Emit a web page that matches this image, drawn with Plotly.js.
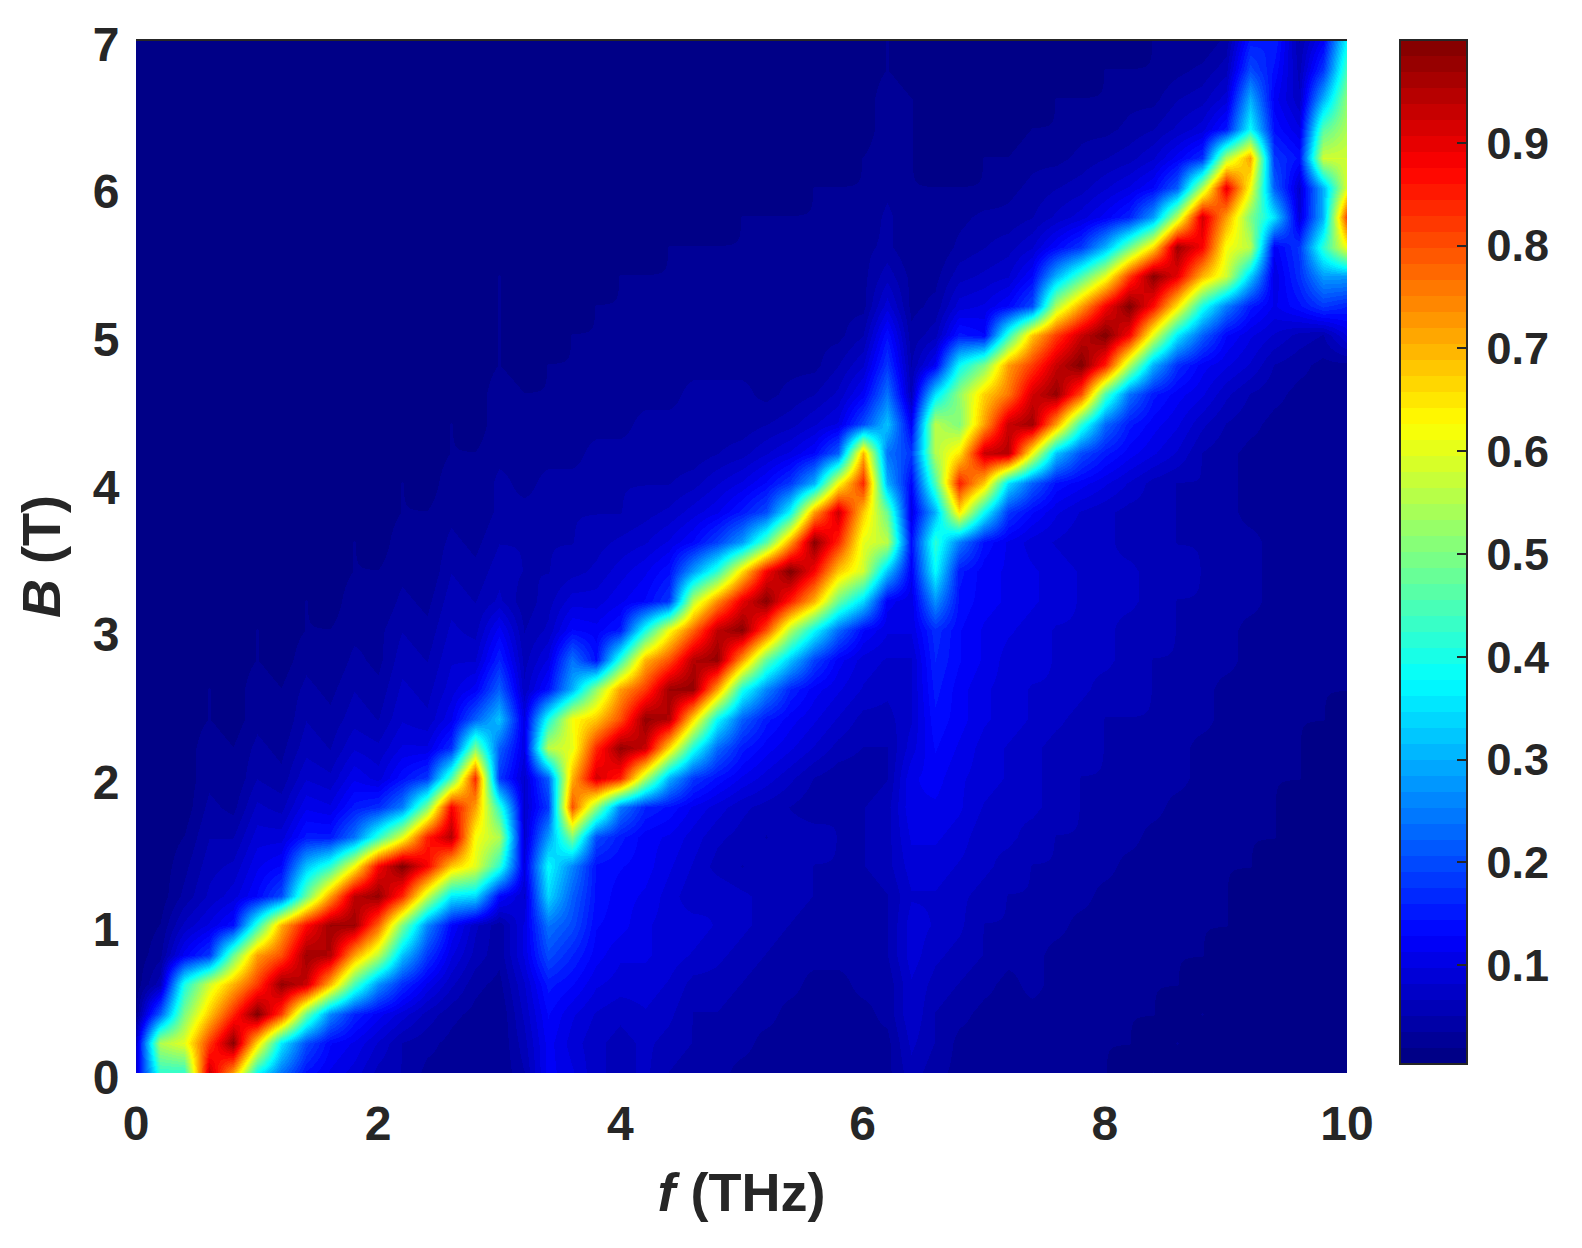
<!DOCTYPE html>
<html>
<head>
<meta charset="utf-8">
<script src="https://cdn.plot.ly/plotly-3.0.1.min.js"></script>
<style>html,body{margin:0;padding:0;background:#fff}</style>
</head>
<body>
<div id="chart" style="width:1582px;height:1248px"></div>
<script>
// frequency axis (THz) and field axis (T)
const fValues = [0,0.2,0.4,0.6,0.8,1,1.2,1.4,1.6,1.8,2,2.2,2.4,2.6,2.8,3,3.2,3.4,3.6,3.8,4,4.2,4.4,4.6,4.8,5,5.2,5.4,5.6,5.8,6,6.2,6.4,6.6,6.8,7,7.2,7.4,7.6,7.8,8,8.2,8.4,8.6,8.8,9,9.2,9.4,9.6,9.8,10];
const bValues = [0,0.2,0.4,0.6,0.8,1,1.2,1.4,1.6,1.8,2,2.2,2.4,2.6,2.8,3,3.2,3.4,3.6,3.8,4,4.2,4.4,4.6,4.8,5,5.2,5.4,5.6,5.8,6,6.2,6.4,6.6,6.8,7];

// transmission, in percent, one row per B value
const transmissionPercent = [
[10,42,42,93,72,38,24,14,11,9, 6,5,3,3,2,2,5,12,10,7, 6,7,5,4,4,3,3,3,2,3, 2,3,6,4,3,2,2,3,2,2, 2,1,2,1,1,1,1,1,1,1, 1],
[8,55,60,82,99,66,36,20,13,11, 8,5,4,3,2,2,6,12,9,7, 6,7,6,5,4,4,3,3,3,3, 3,3,7,5,3,3,2,3,3,2, 2,2,1,2,1,1,1,1,1,1, 1],
[2,22,50,68,84,100,82,48,26,16, 12,9,6,4,3,2,7,13,10,8, 7,8,7,5,5,4,4,3,3,3, 3,4,8,5,4,3,3,3,3,3, 2,2,2,1,2,1,1,1,1,1, 1],
[1,6,40,58,70,82,98,93,70,45, 27,17,11,7,4,3,8,15,13,10, 9,9,8,6,6,5,4,4,3,3, 4,4,8,6,5,4,3,4,3,3, 3,2,2,2,1,1,1,1,1,1, 1],
[1,3,12,18,48,72,80,97,95,72, 56,32,18,10,6,4,10,20,16,12, 10,10,9,8,7,6,5,4,4,4, 4,5,9,7,6,5,4,4,3,3, 3,3,2,2,2,1,1,1,1,1, 1],
[1,2,7,10,14,42,70,87,97,97, 78,50,26,13,7,4,10,24,20,13, 12,10,9,9,8,7,6,5,4,4, 4,5,9,8,7,5,5,4,4,3, 3,3,3,2,2,2,1,1,1,1, 1],
[1,1,4,7,9,13,20,48,72,94, 98,84,57,36,34,13,8,34,22,14, 12,11,9,7,8,7,6,6,5,4, 4,5,8,8,7,6,5,5,4,4, 3,3,3,3,2,2,1,1,1,1, 1],
[1,1,3,6,7,11,13,32,42,62, 88,100,88,68,60,42,10,38,26,14, 13,12,10,8,6,5,6,6,5,5, 5,6,9,9,8,7,6,5,5,4, 4,3,3,3,3,2,2,1,1,1, 1],
[1,1,2,5,5,9,9,15,15,24, 42,60,85,95,62,55,8,28,50,20, 15,12,11,9,7,6,5,6,6,5, 5,6,10,10,9,7,7,6,5,5, 4,4,3,3,3,2,2,2,1,1, 1],
[1,1,1,4,3,7,6,11,10,15, 17,25,50,88,72,42,8,18,80,52, 25,16,14,11,9,7,6,5,4,5, 5,6,11,11,10,8,7,7,6,5, 5,4,4,3,3,3,2,2,1,1, 1],
[1,1,1,3,2,5,4,8,7,11, 9,14,18,45,84,18,8,22,70,92, 85,55,30,18,14,11,9,7,5,4, 4,5,11,12,10,9,8,7,6,5, 5,5,4,4,3,3,2,2,2,1, 1],
[1,1,1,3,2,4,3,6,5,8, 7,10,10,17,50,22,10,56,60,84, 98,93,66,40,23,15,12,10,8,6, 5,5,9,13,11,9,8,7,6,6, 5,5,4,4,3,3,3,2,2,1, 1],
[1,1,1,2,1,3,2,5,4,6, 5,8,7,11,22,32,10,40,62,68, 80,98,95,66,38,22,15,12,10,8, 6,6,8,14,12,10,9,8,7,6, 5,5,5,4,4,3,3,2,2,2, 1],
[1,1,1,2,1,3,2,4,3,5, 4,7,6,9,12,22,7,14,30,52, 72,82,97,98,72,40,26,16,12,10, 8,7,8,15,12,10,9,8,8,7, 6,6,5,4,4,3,3,3,2,2, 2],
[1,1,1,1,1,2,1,3,2,4, 3,6,5,8,8,16,6,10,24,14, 42,70,80,95,98,72,47,32,19,12, 9,8,8,16,13,11,9,9,8,7, 7,6,5,5,4,4,3,3,2,2, 2],
[1,1,1,1,1,2,1,2,2,3, 3,5,4,7,6,12,5,7,13,12, 15,40,62,78,94,99,80,55,38,23, 13,10,10,17,13,11,10,9,8,8, 7,6,6,5,5,4,3,3,3,2, 2],
[1,1,1,1,1,1,1,2,1,3, 2,4,3,6,5,7,4,6,9,9, 11,13,18,56,74,90,99,85,70,48, 34,12,10,27,14,12,11,10,9,8, 7,7,6,5,5,4,4,3,3,2, 2],
[1,1,1,1,1,1,1,1,1,2, 2,3,2,5,4,6,5,5,6,7, 9,11,14,28,42,66,88,100,88,68, 58,32,12,38,15,12,11,10,9,8, 7,7,6,6,5,4,4,3,3,3, 2],
[1,1,1,1,1,1,1,1,1,2, 1,3,2,4,3,5,5,5,5,6, 7,8,10,13,19,28,46,72,99,84, 60,56,14,42,25,14,11,9,8,7, 7,6,6,5,5,4,4,3,3,3, 3],
[1,1,1,1,1,1,1,1,1,1, 1,2,2,3,2,4,4,4,5,5, 5,6,7,9,11,15,20,38,72,93, 68,48,10,30,65,38,18,13,10,8, 7,6,6,5,4,4,3,3,3,3, 3],
[1,1,1,1,1,1,1,1,1,1, 1,2,1,3,2,4,3,4,4,4, 5,5,5,6,8,10,13,18,30,62, 84,30,13,45,85,68,35,22,14,12, 10,8,6,5,5,4,3,3,3,3, 3],
[1,1,1,1,1,1,1,1,1,1, 1,1,1,2,2,3,3,3,3,4, 4,4,4,4,5,6,8,10,13,22, 70,24,18,55,65,93,95,62,32,20, 15,12,10,8,5,4,3,3,3,3, 3],
[1,1,1,1,1,1,1,1,1,1, 1,1,1,2,1,3,2,3,3,3, 3,4,4,4,4,4,5,6,8,10, 20,32,12,56,50,72,93,97,72,42, 23,15,12,10,7,5,4,3,3,3, 3],
[1,1,1,1,1,1,1,1,1,1, 1,1,1,1,1,3,2,2,3,3, 3,3,3,4,4,4,3,4,5,7, 12,24,6,35,52,67,76,92,98,80, 45,24,15,12,10,7,5,4,3,3, 3],
[1,1,1,1,1,1,1,1,1,1, 1,1,1,1,1,2,1,2,2,3, 3,3,3,3,3,3,3,3,3,5, 8,18,5,12,38,50,72,82,93,100, 85,55,30,17,12,10,8,5,4,3, 3],
[1,1,1,1,1,1,1,1,1,1, 1,1,1,1,1,2,1,1,2,2, 2,2,3,3,3,3,3,3,3,3, 5,14,4,6,15,13,42,68,82,93, 100,88,60,36,22,13,10,8,6,5, 10],
[1,1,1,1,1,1,1,1,1,1, 1,1,1,1,1,2,1,1,1,2, 2,2,2,2,2,3,3,3,3,3, 3,9,3,4,9,10,13,20,55,72, 88,100,87,65,40,25,15,11,14,18, 16],
[1,1,1,1,1,1,1,1,1,1, 1,1,1,1,1,2,1,1,1,1, 2,2,2,2,2,2,2,2,2,2, 3,6,3,3,6,7,8,13,30,45, 60,82,99,90,70,58,33,10,17,28, 28],
[1,1,1,1,1,1,1,1,1,1, 1,1,1,1,1,1,1,1,1,1, 1,1,2,2,2,2,2,2,2,2, 3,4,2,2,4,5,6,8,13,18, 30,48,66,97,88,62,56,12,18,42, 62],
[1,1,1,1,1,1,1,1,1,1, 1,1,1,1,1,1,1,1,1,1, 1,1,1,1,1,2,2,2,2,2, 2,4,2,2,3,4,4,5,7,9, 12,16,28,56,92,72,50,35,9,30, 82],
[1,1,1,1,1,1,1,1,1,1, 1,1,1,1,1,1,1,1,1,1, 1,1,1,1,1,1,1,1,2,2, 2,3,2,2,2,2,3,4,5,6, 8,10,13,22,55,90,62,22,8,30, 60],
[1,1,1,1,1,1,1,1,1,1, 1,1,1,1,1,1,1,1,1,1, 1,1,1,1,1,1,1,1,1,1, 2,3,2,1,1,2,2,3,3,4, 5,6,8,12,17,55,72,18,14,58, 58],
[1,1,1,1,1,1,1,1,1,1, 1,1,1,1,1,1,1,1,1,1, 1,1,1,1,1,1,1,1,1,1, 1,3,2,1,1,1,1,2,2,3, 3,4,5,7,9,15,38,14,10,46, 55],
[1,1,1,1,1,1,1,1,1,1, 1,1,1,1,1,1,1,1,1,1, 1,1,1,1,1,1,1,1,1,1, 1,3,2,1,1,1,1,1,2,2, 2,3,3,5,6,9,30,12,7,30, 52],
[1,1,1,1,1,1,1,1,1,1, 1,1,1,1,1,1,1,1,1,1, 1,1,1,1,1,1,1,1,1,1, 1,2,1,1,1,1,1,1,1,1, 2,2,2,3,4,6,20,14,6,18, 45],
[1,1,1,1,1,1,1,1,1,1, 1,1,1,1,1,1,1,1,1,1, 1,1,1,1,1,1,1,1,1,1, 1,2,1,1,1,1,1,1,1,1, 1,1,2,2,2,4,15,16,5,12, 38]
];

const colorbarTicks = [0.1,0.2,0.3,0.4,0.5,0.6,0.7,0.8,0.9];
const colorbarLabels = ['\u20090.1','\u20090.2','\u20090.3','\u20090.4','\u20090.5','\u20090.6','\u20090.7','\u20090.8','\u20090.9'];
const xTicks = [0,2,4,6,8,10];
const yTicks = [0,1,2,3,4,5,6,7];

// stepped 64 level jet, same as the bands in the colorbar
function jetScale(n) {
    const clip = v => Math.round(255 * Math.max(0, Math.min(1, v)));
    const scale = [];
    for (let i = 0; i < n; i++) {
        const t = (i + 0.5) / n;
        const color = 'rgb(' + clip(1.5 - Math.abs(4 * t - 3)) + ',' + clip(1.5 - Math.abs(4 * t - 2)) + ',' + clip(1.5 - Math.abs(4 * t - 1)) + ')';
        scale.push([i / n, color], [(i + 1) / n, color]);
    }
    return scale;
}

const inkColor = '#262626';
const fontFamily = '"Liberation Sans", Arial, sans-serif';
const tickFont = {family: fontFamily, size: 48, color: inkColor, weight: 'bold'};
const barFont = {family: fontFamily, size: 45, color: inkColor, weight: 'bold'};
const titleFont = {family: fontFamily, size: 54, color: inkColor, weight: 'bold'};

const data = [{
    type: 'heatmap',
    x: fValues,
    y: bValues,
    z: transmissionPercent.map(row => row.map(v => v / 100)),
    zsmooth: 'best',
    zmin: 0.004,
    zmax: 1,
    colorscale: jetScale(64),
    colorbar: {
        thickness: 67,
        thicknessmode: 'pixels',
        len: 1024,
        lenmode: 'pixels',
        x: 1.0438,
        xanchor: 'left',
        xpad: 0,
        y: 1,
        yanchor: 'top',
        ypad: 0,
        tickmode: 'array',
        tickvals: colorbarTicks,
        ticktext: colorbarLabels,
        ticks: 'inside',
        ticklen: 11,
        tickwidth: 2,
        tickcolor: inkColor,
        tickfont: barFont,
        outlinecolor: inkColor,
        outlinewidth: 2,
        borderwidth: 0
    }
}];

const layout = {
    width: 1582,
    height: 1248,
    margin: {l: 136, r: 235, t: 40, b: 175, autoexpand: false},
    paper_bgcolor: '#fff',
    plot_bgcolor: '#fff',
    xaxis: {
        range: [0, 10],
        tickmode: 'array',
        tickvals: xTicks,
        ticks: 'outside',
        ticklen: 8,
        tickcolor: 'rgba(0,0,0,0)',
        tickfont: tickFont,
        showgrid: false,
        zeroline: false,
        title: {text: '<i>f</i> (THz)', font: titleFont, standoff: 24}
    },
    yaxis: {
        range: [0, 7],
        tickmode: 'array',
        tickvals: yTicks,
        ticks: 'outside',
        ticklen: 6,
        tickcolor: 'rgba(0,0,0,0)',
        tickfont: tickFont,
        ticklabelshift: 4,
        showgrid: false,
        zeroline: false,
        title: {text: '<i>B</i> (T)', font: titleFont, standoff: 14}
    },
    shapes: [{type: 'line', xref: 'paper', yref: 'paper', x0: 0, x1: 1, y0: 1, y1: 1, line: {color: inkColor, width: 2}}]
};

Plotly.newPlot('chart', data, layout, {displayModeBar: false, responsive: false});
</script>
</body>
</html>
